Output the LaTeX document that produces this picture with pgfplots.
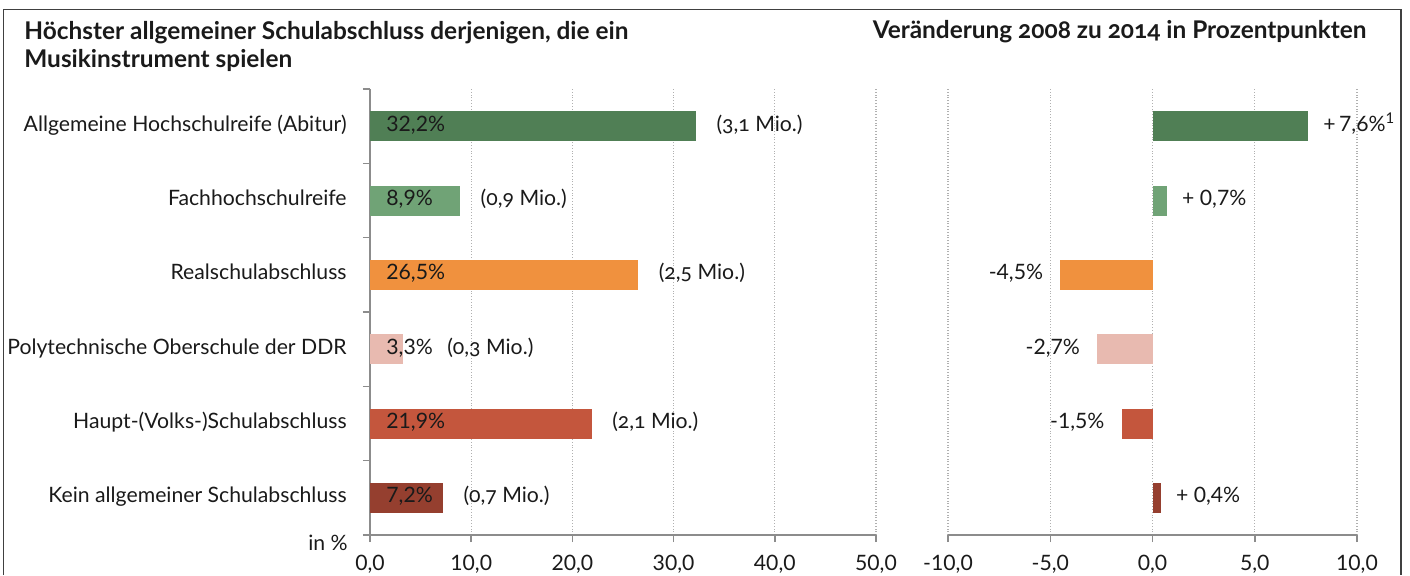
\documentclass[border=0pt]{standalone}
\usepackage{fontspec}
\setmainfont{Lato}
\newfontfamily\oldnum[Numbers=OldStyle]{Lato}
\usepackage{pgfplots}
\pgfplotsset{compat=1.18}
\definecolor{cA}{HTML}{507F55}
\definecolor{cB}{HTML}{70A376}
\definecolor{cC}{HTML}{F0913E}
\definecolor{cD}{HTML}{E8BAB0}
\definecolor{cE}{HTML}{C4563D}
\definecolor{cF}{HTML}{953F2F}
\definecolor{axisgray}{HTML}{8C8C8C}
\definecolor{gridgray}{HTML}{B0B0B0}
\definecolor{txt}{HTML}{1A1A1A}
\tikzset{lab/.style={inner sep=0pt, text=txt}}
\newcommand{\titlefont}{\fontsize{12.2pt}{14pt}\selectfont\bfseries}
\pgfplotsset{
  mybase/.style={
    scale only axis, height=223pt, ymin=0, ymax=6,
    xbar, bar width=15pt, bar shift=0pt,
    clip=false,
    axis line style={color=axisgray, line width=0.75pt},
    tick style={color=axisgray, line width=0.75pt},
    tick align=outside, major tick length=3.5pt,
    xmajorgrids, major grid style={densely dotted, color=gridgray, line width=0.6pt},
    scaled x ticks=false,
    xticklabel style={text=txt, inner sep=0pt, anchor=north, yshift=-6.5pt,
      /pgf/number format/.cd, fixed, fixed zerofill, precision=1, use comma, assume math mode=true},
  },
}
\begin{document}
\fontsize{10.6pt}{12.7pt}\selectfont
\begin{tikzpicture}
\path[use as bounding box] (0,0) rectangle (705pt,-287.5pt);
\draw[line width=0.75pt, color=black!75] (1.75pt,-287.5pt) -- (1.75pt,-4.75pt) -- (700.5pt,-4.75pt) -- (700.5pt,-287.5pt);
\node[lab, anchor=base west, font=\titlefont] at (12pt,-19.5pt) {Höchster allgemeiner Schulabschluss derjenigen, die ein};
\node[lab, anchor=base west, font=\titlefont] at (12pt,-33.5pt) {Musikinstrument spielen};
\node[lab, anchor=base east, font=\oldnum\titlefont] at (683.5pt,-19pt) {Veränderung 2008 zu 2014 in Prozentpunkten};

\begin{axis}[mybase, at={(185pt,-267.5pt)}, anchor=south west, width=253pt,
  xmin=0, xmax=50, xtick={0,10,20,30,40,50},
  axis x line*=bottom, axis y line*=left,
  ytick={0,1,2,3,4,5,6}, yticklabels={}]
\addplot[fill=cA, draw=none] coordinates {(32.2,5.5)};
\addplot[fill=cB, draw=none] coordinates {(8.9,4.5)};
\addplot[fill=cC, draw=none] coordinates {(26.5,3.5)};
\addplot[fill=cD, draw=none] coordinates {(3.3,2.5)};
\addplot[fill=cE, draw=none] coordinates {(21.9,1.5)};
\addplot[fill=cF, draw=none] coordinates {(7.2,0.5)};
% category labels
\node[lab, anchor=base east, xshift=-11.5pt, yshift=-2.5pt] at (axis cs:0,5.5) {Allgemeine Hochschulreife (Abitur)};
\node[lab, anchor=base east, xshift=-11.5pt, yshift=-2.5pt] at (axis cs:0,4.5) {Fachhochschulreife};
\node[lab, anchor=base east, xshift=-11.5pt, yshift=-2.5pt] at (axis cs:0,3.5) {Realschulabschluss};
\node[lab, anchor=base east, xshift=-11.5pt, yshift=-2.5pt] at (axis cs:0,2.5) {Polytechnische Oberschule der DDR};
\node[lab, anchor=base east, xshift=-11.5pt, yshift=-2.5pt] at (axis cs:0,1.5) {Haupt-(Volks-)Schulabschluss};
\node[lab, anchor=base east, xshift=-11.5pt, yshift=-2.5pt] at (axis cs:0,0.5) {Kein allgemeiner Schulabschluss};
\node[lab, anchor=base east, xshift=-11pt, yshift=-7.5pt] at (axis cs:0,0) {in \%};
% values inside bars
\node[lab, anchor=base west, xshift=8pt, yshift=-2.5pt] at (axis cs:0,5.5) {32,2\%};
\node[lab, anchor=base west, xshift=8pt, yshift=-2.5pt] at (axis cs:0,4.5) {8,9\%};
\node[lab, anchor=base west, xshift=8pt, yshift=-2.5pt] at (axis cs:0,3.5) {26,5\%};
\node[lab, anchor=base west, xshift=8pt, yshift=-2.5pt] at (axis cs:0,2.5) {3,3\%};
\node[lab, anchor=base west, xshift=8pt, yshift=-2.5pt] at (axis cs:0,1.5) {21,9\%};
\node[lab, anchor=base west, xshift=8pt, yshift=-2.5pt] at (axis cs:0,0.5) {7,2\%};
% absolute numbers
\node[lab, anchor=base west, yshift=-2.5pt, font=\oldnum] at (axis cs:34.2,5.5) {(3,1 Mio.)};
\node[lab, anchor=base west, yshift=-2.5pt, font=\oldnum] at (axis cs:10.9,4.5) {(0,9 Mio.)};
\node[lab, anchor=base west, yshift=-2.5pt, font=\oldnum] at (axis cs:28.5,3.5) {(2,5 Mio.)};
\node[lab, anchor=base west, yshift=-2.5pt, font=\oldnum] at (axis cs:7.6,2.5) {(0,3 Mio.)};
\node[lab, anchor=base west, yshift=-2.5pt, font=\oldnum] at (axis cs:23.9,1.5) {(2,1 Mio.)};
\node[lab, anchor=base west, yshift=-2.5pt, font=\oldnum] at (axis cs:9.2,0.5) {(0,7 Mio.)};
\end{axis}

\begin{axis}[mybase, at={(474pt,-267.5pt)}, anchor=south west, width=204.5pt,
  xmin=-10, xmax=10, xtick={-10,-5,0,5,10},
  axis x line*=bottom, axis y line=none, ytick=\empty]
\addplot[fill=cA, draw=none] coordinates {(7.6,5.5)};
\addplot[fill=cB, draw=none] coordinates {(0.7,4.5)};
\addplot[fill=cC, draw=none] coordinates {(-4.5,3.5)};
\addplot[fill=cD, draw=none] coordinates {(-2.7,2.5)};
\addplot[fill=cE, draw=none] coordinates {(-1.5,1.5)};
\addplot[fill=cF, draw=none] coordinates {(0.4,0.5)};
\node[lab, anchor=base west, xshift=7.5pt, yshift=-2.5pt] at (axis cs:7.6,5.5) {+\,7,6\%\textsuperscript{1}};
\node[lab, anchor=base west, xshift=7.5pt, yshift=-2.5pt] at (axis cs:0.7,4.5) {+ 0,7\%};
\node[lab, anchor=base east, xshift=-8.5pt, yshift=-2.5pt] at (axis cs:-4.5,3.5) {-4,5\%};
\node[lab, anchor=base east, xshift=-8.5pt, yshift=-2.5pt] at (axis cs:-2.7,2.5) {-2,7\%};
\node[lab, anchor=base east, xshift=-8.5pt, yshift=-2.5pt] at (axis cs:-1.5,1.5) {-1,5\%};
\node[lab, anchor=base west, xshift=7.5pt, yshift=-2.5pt] at (axis cs:0.4,0.5) {+ 0,4\%};
\end{axis}
\end{tikzpicture}
\end{document}
